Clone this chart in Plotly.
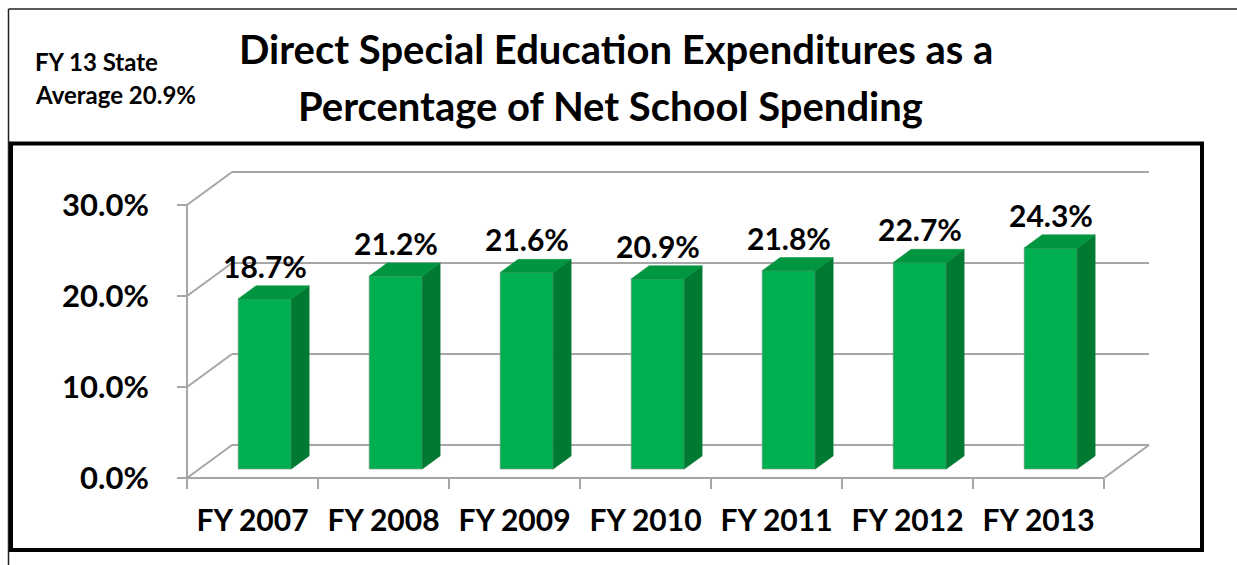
import plotly.graph_objects as go

# ---------------- data ----------------
categories = ["FY 2007", "FY 2008", "FY 2009", "FY 2010", "FY 2011", "FY 2012", "FY 2013"]
values = [18.7, 21.2, 21.6, 20.9, 21.8, 22.7, 24.3]
y_ticks = [0, 10, 20, 30]
y_tick_labels = ["0.0%", "10.0%", "20.0%", "30.0%"]
value_labels = ["18.7%", "21.2%", "21.6%", "20.9%", "21.8%", "22.7%", "24.3%"]
title_lines = ["Direct Special Education Expenditures as a", "Percentage of Net School Spending"]
note_lines = ["FY 13 State", "Average 20.9%"]

# ---------------- geometry (pixels) ----------------
W, H = 1237, 565
PL, PR, PT, PB = 176, 1162, 160, 488      # plot area in pixels
X0, CW = 187, 131.0                        # front-left corner x, px per category
Y0, SY = 478, 9.1                          # front floor y, px per percent
DEPTH_X_PX, DEPTH_Y_PX = 45, 33            # 3-D depth offset of back wall

n = len(categories)
DX = DEPTH_X_PX / CW
DY = DEPTH_Y_PX / SY
x_range = [-0.5 - (X0 - PL) / CW, -0.5 + (PR - X0) / CW]
y_range = [-(PB - Y0) / SY, (Y0 - PT) / SY]

Z0, ZD, BW = 0.27, 0.40, 0.405   # bar front depth, bar depth, bar width (fractions)


def paper_x(px):
    return (px - PL) / (PR - PL)


def paper_y(py):
    return (PB - py) / (PB - PT)


FONT = "Lato"
GRID = "#A6A6A6"
FRONT = "#00B050"
TOP = "#00953F"
SIDE = "#007A33"

fig = go.Figure()

# front faces
bx = [i + Z0 * DX for i in range(n)]
base = Z0 * DY
fig.add_trace(go.Bar(
    x=bx, y=values, base=base, width=BW,
    marker=dict(color=FRONT, line=dict(color="rgba(150,150,150,0.6)", width=1)),
    hoverinfo="skip", showlegend=False,
))

# side and top faces
ddx, ddy = ZD * DX, ZD * DY
sx, sy, tx, ty = [], [], [], []
for xc, v in zip(bx, values):
    xl, xr = xc - BW / 2, xc + BW / 2
    top = base + v
    sx += [xr, xr, xr + ddx, xr + ddx, xr, None]
    sy += [base, top, top + ddy, base + ddy, base, None]
    tx += [xl, xr, xr + ddx, xl + ddx, xl, None]
    ty += [top, top, top + ddy, top + ddy, top, None]
fig.add_trace(go.Scatter(x=sx, y=sy, fill="toself", fillcolor=SIDE, mode="lines",
                         line=dict(color=SIDE, width=0.5), hoverinfo="skip", showlegend=False))
fig.add_trace(go.Scatter(x=tx, y=ty, fill="toself", fillcolor=TOP, mode="lines",
                         line=dict(color=TOP, width=0.5), hoverinfo="skip", showlegend=False))

# dummy trace so the tick-mark axis is drawn
fig.add_trace(go.Scatter(x=[x_range[0]], y=[0], xaxis="x2", mode="markers",
                         marker=dict(opacity=0), hoverinfo="skip", showlegend=False))

# data labels
for xc, v, lab in zip(bx, values, value_labels):
    fig.add_annotation(x=xc, y=base + v + ddy, xref="x", yref="y", text=lab,
                       showarrow=False, yanchor="bottom", yshift=0,
                       font=dict(family=FONT, size=30, color="black", weight="bold"))

# 3-D frame: walls, floor, gridlines
shapes = []
left, right = -0.5, n - 0.5
for v in y_ticks:
    shapes.append(dict(type="line", xref="x", yref="y", x0=left + DX, x1=right + DX,
                       y0=v + DY, y1=v + DY, line=dict(color=GRID, width=2), layer="below"))
    shapes.append(dict(type="line", xref="x", yref="y", x0=left, x1=left + DX,
                       y0=v, y1=v + DY, line=dict(color=GRID, width=2), layer="below"))
shapes.append(dict(type="line", xref="x", yref="y", x0=left, x1=left, y0=0, y1=y_ticks[-1],
                   line=dict(color=GRID, width=2), layer="below"))
shapes.append(dict(type="line", xref="x", yref="y", x0=left, x1=right, y0=0, y1=0,
                   line=dict(color=GRID, width=2), layer="below"))
shapes.append(dict(type="line", xref="x", yref="y", x0=right, x1=right + DX, y0=0, y1=DY,
                   line=dict(color=GRID, width=2), layer="below"))

# outer thin frame (top and left edges only) and inner thick frame
shapes.append(dict(type="line", xref="paper", yref="paper",
                   x0=paper_x(8.5), x1=paper_x(W), y0=paper_y(9), y1=paper_y(9),
                   line=dict(color="#222222", width=1.5), layer="above"))
shapes.append(dict(type="line", xref="paper", yref="paper",
                   x0=paper_x(8.5), x1=paper_x(8.5), y0=paper_y(9), y1=paper_y(H),
                   line=dict(color="#222222", width=1.5), layer="above"))
shapes.append(dict(type="rect", xref="paper", yref="paper",
                   x0=paper_x(11), x1=paper_x(1202), y0=paper_y(143.5), y1=paper_y(550),
                   line=dict(color="black", width=4), layer="above"))

# title and note
fig.add_annotation(x=paper_x(616), y=paper_y(49), xref="paper", yref="paper",
                   text=title_lines[0], showarrow=False, xanchor="center", yanchor="middle",
                   font=dict(family=FONT, size=40, color="black", weight="bold"))
fig.add_annotation(x=paper_x(610), y=paper_y(106), xref="paper", yref="paper",
                   text=title_lines[1], showarrow=False, xanchor="center", yanchor="middle",
                   font=dict(family=FONT, size=40, color="black", weight="bold"))
fig.add_annotation(x=paper_x(33), y=paper_y(62), xref="paper", yref="paper",
                   text=note_lines[0], showarrow=False, xanchor="left", yanchor="middle",
                   font=dict(family=FONT, size=24, color="black", weight="bold"))
fig.add_annotation(x=paper_x(33), y=paper_y(94), xref="paper", yref="paper",
                   text=note_lines[1], showarrow=False, xanchor="left", yanchor="middle",
                   font=dict(family=FONT, size=24, color="black", weight="bold"))

x_font = dict(family=FONT, size=30, color="black", weight="bold")
y_font = dict(family=FONT, size=31, color="black", weight="bold")
fig.update_layout(
    template="none",
    width=W, height=H,
    margin=dict(l=PL, r=W - PR, t=PT, b=H - PB, pad=0),
    paper_bgcolor="white", plot_bgcolor="white",
    showlegend=False,
    shapes=shapes,
    xaxis=dict(range=x_range, tickvals=list(range(n)), ticktext=categories, ticks="",
               showgrid=False, zeroline=False, showline=False, automargin=False,
               anchor="free", position=paper_y(Y0), tickfont=x_font,
               ticklabelstandoff=22, fixedrange=True),
    xaxis2=dict(range=x_range, overlaying="x", tickvals=[i - 0.5 for i in range(n + 1)],
                ticks="outside", ticklen=10, tickwidth=2, tickcolor=GRID,
                showticklabels=False, showgrid=False, zeroline=False, showline=False,
                automargin=False, anchor="free", position=paper_y(Y0), fixedrange=True),
    yaxis=dict(range=y_range, tickvals=y_ticks, ticktext=y_tick_labels, ticks="outside",
               ticklen=10, tickwidth=2, tickcolor=GRID, showgrid=False, zeroline=False,
               showline=False, automargin=False, anchor="free", position=paper_x(X0),
               tickfont=y_font, ticklabelstandoff=22, fixedrange=True),
)

fig.write_html("out.html")
